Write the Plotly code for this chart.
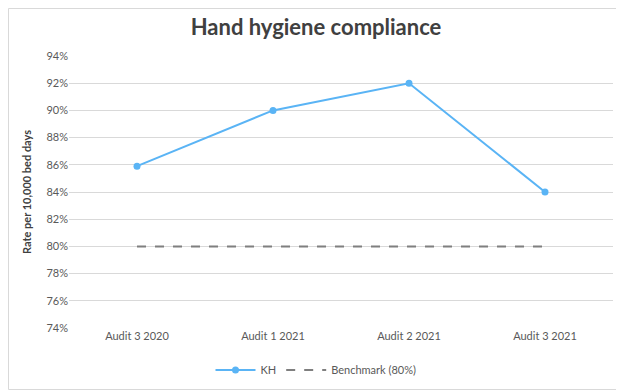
import plotly.graph_objects as go

categories = ["Audit 3 2020", "Audit 1 2021", "Audit 2 2021", "Audit 3 2021"]
kh_values = [0.859, 0.90, 0.92, 0.84]
benchmark_values = [0.80, 0.80, 0.80, 0.80]

# the page places the figure 8px from the top-left corner (default body margin)
OFF = 8
W, H = 624 - OFF, 391 - OFF
ml, mr, mt, mb = 69 - OFF, 11, 56 - OFF, 63
pw = W - ml - mr
ph = H - mt - mb

font_family = "Lato, 'Open Sans', sans-serif"
text_color = "#595959"

fig = go.Figure()
fig.add_trace(go.Scatter(
    x=categories, y=kh_values, name="KH", mode="lines+markers",
    line=dict(color="#5AB4F5", width=2),
    marker=dict(color="#5AB4F5", size=7),
))
fig.add_trace(go.Scatter(
    x=categories, y=benchmark_values, name="Benchmark (80%)", mode="lines",
    line=dict(color="#7F7F7F", width=2, dash="dash"),
))

fig.update_layout(
    width=W, height=H,
    margin=dict(l=ml, r=mr, t=mt, b=mb, autoexpand=False),
    paper_bgcolor="white", plot_bgcolor="white",
    font=dict(family=font_family, size=11, color=text_color),
    title=dict(text="<b>Hand hygiene compliance</b>", x=0.5, xanchor="center",
               y=1 - (27 - OFF) / H, yanchor="middle",
               font=dict(size=22, color="#404040", family=font_family)),
    showlegend=True,
    legend=dict(orientation="h", xref="container", x=(316 - OFF) / W, xanchor="center",
                yref="container", y=1 - (370 - OFF) / H, yanchor="middle",
                font=dict(size=11, color=text_color), itemwidth=40),
    xaxis=dict(type="category", showgrid=False, zeroline=False, showline=False,
               ticks="", tickfont=dict(size=11, color=text_color),
               range=[-0.5, 3.5], automargin=False),
    yaxis=dict(range=[0.74, 0.94], dtick=0.02, tickformat=".0%",
               showgrid=True, gridcolor="#D9D9D9", gridwidth=1,
               zeroline=False, showline=False, ticks="", automargin=False,
               tickfont=dict(size=11, color=text_color),
               title=dict(text="<b>Rate per 10,000 bed days</b>",
                          font=dict(size=11, color="#404040"), standoff=12)),
    shapes=[dict(type="rect", xref="paper", yref="paper",
                 x0=-(ml - 0.5) / pw, x1=1 + (mr - 1.5) / pw,
                 y0=-(mb - 1.5) / ph, y1=1 + (mt - 0.5) / ph,
                 line=dict(color="#D9D9D9", width=1), layer="below")],
)

fig.write_html("out.html")
